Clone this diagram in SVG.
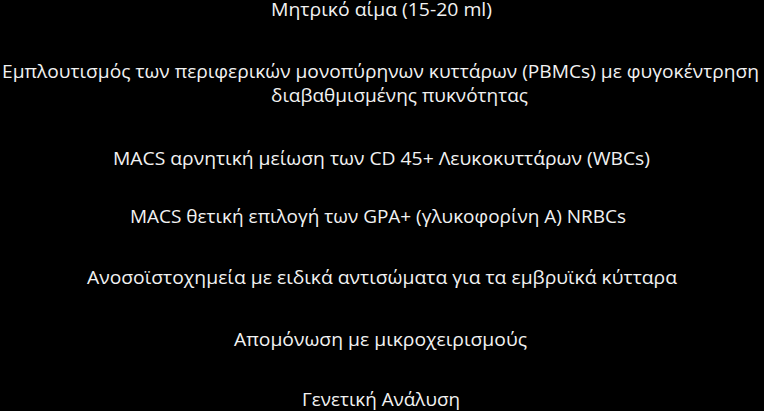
<svg xmlns="http://www.w3.org/2000/svg" width="764" height="411" viewBox="0 0 764 411">
<style>
.t{font-family:"Open Sans","Noto Sans","DejaVu Sans",sans-serif;font-size:19px;fill:#f2f2f2}
</style>
<rect width="764" height="411" fill="#000"/>
<g id="n1"><text class="t" x="271" y="16" textLength="221" lengthAdjust="spacingAndGlyphs">Μητρικό αίμα (15-20 ml)</text></g>
<g id="n2"><text class="t" x="2" y="78" textLength="757" lengthAdjust="spacingAndGlyphs">Εμπλουτισμός των περιφερικών μονοπύρηνων  κυττάρων (PBMCs) με φυγοκέντρηση</text>
<text class="t" x="271" y="102" textLength="257" lengthAdjust="spacingAndGlyphs">διαβαθμισμένης πυκνότητας</text></g>
<g id="n3"><text class="t" x="113" y="165" textLength="537" lengthAdjust="spacingAndGlyphs">MACS αρνητική μείωση των CD 45+ Λευκοκυττάρων (WBCs)</text></g>
<g id="n4"><text class="t" x="130" y="223" textLength="496" lengthAdjust="spacingAndGlyphs">MACS θετική επιλογή των GPA+ (γλυκοφορίνη Α) NRBCs</text></g>
<g id="n5"><text class="t" x="87" y="284" textLength="590" lengthAdjust="spacingAndGlyphs">Ανοσοϊστοχημεία με ειδικά αντισώματα για τα εμβρυϊκά κύτταρα</text></g>
<g id="n6"><text class="t" x="234" y="346" textLength="293" lengthAdjust="spacingAndGlyphs">Απομόνωση με μικροχειρισμούς</text></g>
<g id="n7"><text class="t" x="302" y="406" textLength="158" lengthAdjust="spacingAndGlyphs">Γενετική Ανάλυση</text></g>
<g id="connectors"></g>
</svg>
